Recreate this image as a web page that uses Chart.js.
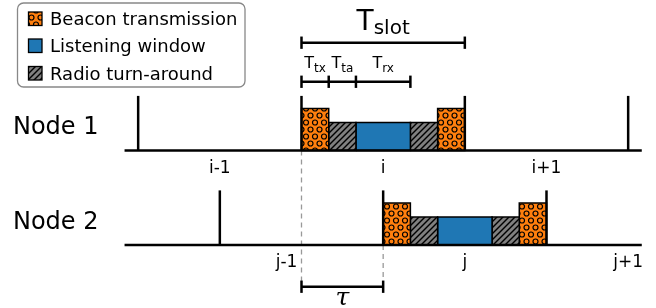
<!DOCTYPE html>
<html><head><meta charset="utf-8">
<script src="https://cdn.jsdelivr.net/npm/chart.js@4"></script>
<style>html,body{margin:0;padding:0;background:#fff}#wrap{width:656px;height:308px;position:relative}</style>
</head><body><div id="wrap"><canvas id="c"></canvas></div>
<script>
// ---------------- data ----------------
const nodes = ['Node 1', 'Node 2'];
const nodeBaselines = [3.375, 0];          // level of each node's time line
const activeSlotStart = [0, 3];            // start of slot i (Node 1) and slot j (Node 2)
const slotLength = 6;
const slotBoundaries = [[-6, 0, 6, 12], [-3, 3, 9]];
const slotLabels = [['i-1', 'i', 'i+1'], ['j-1', 'j', 'j+1']];
const slotLabelPos = [[-3, 3, 9], [-0.55, 6, 12]];
const timeRange = [-6.5, 12.5];
const markerHeight = 1.95;
const phaseKinds = ['beacon', 'turn', 'listen', 'turn', 'beacon'];
const phaseDurations = [1, 1, 2, 1, 1];
const phaseHeights = [1.5, 1, 1, 1, 1.5];
const tau = 3;
const durationTicks = [0, 1, 2, 4];
const durationLabels = [['T', 'tx'], ['T', 'ta'], ['T', 'rx']];
const slotLabel = ['T', 'slot'];
const legendLabels = ['Beacon transmission', 'Listening window', 'Radio turn-around'];
const legendKinds = ['beacon', 'listen', 'turn'];

// ---------------- patterns ----------------
function makePattern(kind) {
  const c = document.createElement('canvas');
  const g = c.getContext('2d');
  if (kind === 'beacon') {
    c.width = 9; c.height = 14;
    g.fillStyle = '#ff7f0e'; g.fillRect(0, 0, 9, 14);
    g.strokeStyle = '#000'; g.lineWidth = 1.2;
    [[4.5, 3.5], [0, 10.5], [9, 10.5]].forEach(p => { g.beginPath(); g.arc(p[0], p[1], 2.5, 0, Math.PI * 2); g.stroke(); });
  } else if (kind === 'turn') {
    c.width = 6; c.height = 6;
    g.fillStyle = '#808080'; g.fillRect(0, 0, 6, 6);
    g.strokeStyle = '#000'; g.lineWidth = 1.4;
    [[-1, 7, 7, -1], [-4, 4, 4, -4], [2, 10, 10, 2]].forEach(l => { g.beginPath(); g.moveTo(l[0], l[1]); g.lineTo(l[2], l[3]); g.stroke(); });
  } else {
    c.width = 4; c.height = 4; g.fillStyle = '#1f77b4'; g.fillRect(0, 0, 4, 4);
  }
  return g.createPattern(c, 'repeat');
}
const fills = { beacon: makePattern('beacon'), turn: makePattern('turn'), listen: makePattern('listen') };

// ---------------- datasets ----------------
const datasets = [];
function line(points, opts) {
  datasets.push(Object.assign({ data: points, showLine: true, pointRadius: 0, borderColor: '#000', borderWidth: 2.5, fill: false, tension: 0 }, opts));
}
nodes.forEach((n, k) => {
  const b = nodeBaselines[k];
  let t = activeSlotStart[k];
  phaseKinds.forEach((kind, p) => {
    const t1 = t + phaseDurations[p], h = phaseHeights[p];
    line([{x: t, y: b}, {x: t, y: b + h}, {x: t1, y: b + h}, {x: t1, y: b}, {x: t, y: b}],
      { fill: 'shape', backgroundColor: fills[kind], borderWidth: 1.5, borderJoinStyle: 'miter', order: 5 });
    t = t1;
  });
  line([{x: timeRange[0], y: b}, {x: timeRange[1], y: b}], { order: 2 });
  slotBoundaries[k].forEach(s => line([{x: s, y: b}, {x: s, y: b + markerHeight}], { order: 2 }));
});
// dashed guides showing the offset tau
const braceY = -1.49, tickH = 0.22;
line([{x: 0, y: nodeBaselines[0]}, {x: 0, y: braceY + 0.17}], { borderColor: '#999', borderWidth: 1.3, borderDash: [5, 4], order: 6 });
line([{x: tau, y: nodeBaselines[1]}, {x: tau, y: braceY + 0.17}], { borderColor: '#999', borderWidth: 1.3, borderDash: [5, 4], order: 6 });
function bracket(a, c, y, ticks) {
  line([{x: a, y: y}, {x: c, y: y}], { order: 1 });
  ticks.forEach(tk => line([{x: tk, y: y - tickH}, {x: tk, y: y + tickH}], { order: 1 }));
}
bracket(0, tau, braceY, [0, tau]);
const slotBraceY = 7.225, phaseBraceY = 5.83;
bracket(0, slotLength, slotBraceY, [0, slotLength]);
bracket(durationTicks[0], durationTicks[durationTicks.length - 1], phaseBraceY, durationTicks);

// ---------------- text & legend ----------------
const FONT = '"DejaVu Sans", sans-serif';
const textPlugin = {
  id: 'texts',
  afterDatasetsDraw(chart) {
    const ctx = chart.ctx, X = v => chart.scales.x.getPixelForValue(v), Y = v => chart.scales.y.getPixelForValue(v);
    ctx.save();
    ctx.fillStyle = '#000';
    ctx.textBaseline = 'alphabetic';
    // node names
    ctx.font = '24px ' + FONT; ctx.textAlign = 'left';
    ctx.fillText(nodes[0], X(-10.6), Y(3.96));
    ctx.fillText(nodes[1], X(-10.6), Y(0.56));
    // slot labels
    ctx.font = '17px ' + FONT; ctx.textAlign = 'center';
    nodes.forEach((n, k) => slotLabels[k].forEach((s, i) => ctx.fillText(s, X(slotLabelPos[k][i]), Y(nodeBaselines[k] - 0.8))));
    // subscripted labels
    function sub(pair, cx, by, size, subSize, shift) {
      ctx.textAlign = 'left';
      ctx.font = size + 'px ' + FONT; const w1 = ctx.measureText(pair[0]).width;
      ctx.font = subSize + 'px ' + FONT; const w2 = ctx.measureText(pair[1]).width;
      const x0 = cx - (w1 + w2) / 2;
      ctx.font = size + 'px ' + FONT; ctx.fillText(pair[0], x0, by);
      ctx.font = subSize + 'px ' + FONT; ctx.fillText(pair[1], x0 + w1, by + shift);
    }
    sub(slotLabel, X(slotLength / 2), Y(7.68), 28, 20, 4);
    durationLabels.forEach((p, i) => sub(p, X((durationTicks[i] + durationTicks[i + 1]) / 2), Y(6.33), 16, 12, 4));
    // tau
    ctx.font = 'italic 25px "DejaVu Serif", serif'; ctx.textAlign = 'center';
    ctx.fillText('τ', X(tau / 2), Y(-2.16));
    // legend
    const L = 17.5, T = 3, R = 245, B = 87, r = 6;
    ctx.beginPath();
    ctx.moveTo(L + r, T); ctx.arcTo(R, T, R, B, r); ctx.arcTo(R, B, L, B, r); ctx.arcTo(L, B, L, T, r); ctx.arcTo(L, T, R, T, r); ctx.closePath();
    ctx.fillStyle = '#fff'; ctx.fill();
    ctx.strokeStyle = '#888'; ctx.lineWidth = 1.3; ctx.stroke();
    const rows = [18.5, 45.5, 73];
    legendLabels.forEach((lab, i) => {
      ctx.fillStyle = fills[legendKinds[i]];
      ctx.fillRect(28.5, rows[i] - 6.5, 13.5, 13.5);
      ctx.strokeStyle = '#000'; ctx.lineWidth = 1.3;
      ctx.strokeRect(28.5, rows[i] - 6.5, 13.5, 13.5);
      ctx.fillStyle = '#000'; ctx.font = '18px ' + FONT; ctx.textAlign = 'left';
      ctx.fillText(lab, 50, rows[i] + 6.5);
    });
    ctx.restore();
  }
};

new Chart(document.getElementById('c'), {
  type: 'scatter',
  data: { datasets },
  options: {
    responsive: true, maintainAspectRatio: false, animation: false, events: [],
    layout: { padding: 0 },
    plugins: { legend: { display: false }, tooltip: { enabled: false } },
    scales: {
      x: { type: 'linear', display: false, min: -11.0755, max: 13.0226 },
      y: { type: 'linear', display: false, min: -2.25, max: 8.75 }
    }
  },
  plugins: [textPlugin]
});
</script></body></html>
